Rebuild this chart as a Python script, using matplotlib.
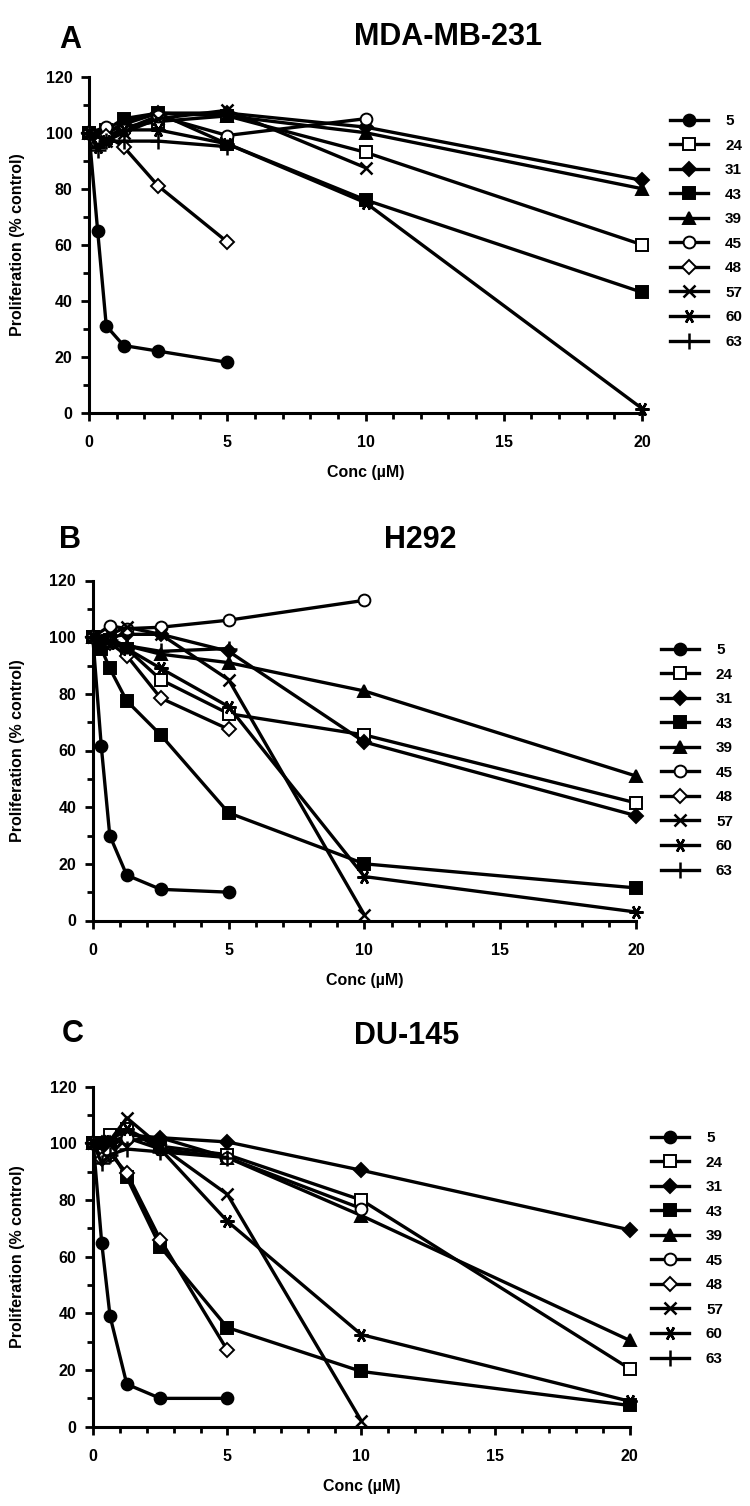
import matplotlib
matplotlib.use('Agg')
import matplotlib.pyplot as plt
from matplotlib.ticker import MultipleLocator

plt.rcParams['font.family'] = ['Liberation Sans', 'DejaVu Sans']
plt.rcParams['font.weight'] = 'bold'

COMPOUNDS = ['5', '24', '31', '43', '39', '45', '48', '57', '60', '63']
TITLES = ['MDA-MB-231', 'H292', 'DU-145']
PANEL_LETTERS = ['A', 'B', 'C']
X_TICKS = [0, 5, 10, 15, 20]
Y_TICKS = [0, 20, 40, 60, 80, 100, 120]

# ---- Panel A (MDA-MB-231) ----
A_CONC = {
    '5':  [0, 0.3125, 0.625, 1.25, 2.5, 5],
    '24': [0, 0.625, 1.25, 2.5, 5, 10, 20],
    '31': [0, 0.625, 1.25, 2.5, 5, 10, 20],
    '43': [0, 0.625, 1.25, 2.5, 5, 10, 20],
    '39': [0, 0.625, 1.25, 2.5, 5, 10, 20],
    '45': [0, 0.625, 1.25, 2.5, 5, 10],
    '48': [0, 0.3125, 0.625, 1.25, 2.5, 5],
    '57': [0, 0.625, 1.25, 2.5, 5, 10],
    '60': [0, 0.3125, 0.625, 1.25, 2.5, 5, 10, 20],
    '63': [0, 0.3125, 0.625, 1.25, 2.5, 5],
}
A_PROLIF = {
    '5':  [100, 65, 31, 24, 22, 18],
    '24': [100, 98, 102, 104, 106, 93, 60],
    '31': [100, 100, 103, 107, 107, 102, 83],
    '43': [100, 101, 105, 107, 96, 76, 43],
    '39': [100, 99, 104, 107, 106, 100, 80],
    '45': [100, 102, 101, 106, 99, 105],
    '48': [100, 96, 99, 95, 81, 61],
    '57': [100, 97, 100, 105, 108, 87.5],
    '60': [100, 95, 97, 101, 101, 96, 75, 1.5],
    '63': [100, 94, 97, 97, 97, 95],
}

# ---- Panel B (H292) ----
B_CONC = {
    '5':  [0, 0.3125, 0.625, 1.25, 2.5, 5],
    '24': [0, 0.625, 1.25, 2.5, 5, 10, 20],
    '31': [0, 0.3125, 0.625, 1.25, 2.5, 5, 10, 20],
    '43': [0, 0.3125, 0.625, 1.25, 2.5, 5, 10, 20],
    '39': [0, 0.625, 1.25, 2.5, 5, 10, 20],
    '45': [0, 0.625, 1.25, 2.5, 5, 10],
    '48': [0, 0.625, 1.25, 2.5, 5],
    '57': [0, 0.625, 1.25, 2.5, 5, 10],
    '60': [0, 0.625, 1.25, 2.5, 5, 10, 20],
    '63': [0, 0.3125, 0.625, 1.25, 2.5, 5],
}
B_PROLIF = {
    '5':  [100, 61.5, 30, 16, 11, 10],
    '24': [100, 99, 96, 85, 73, 65.5, 41.5],
    '31': [100, 97, 100, 101, 101, 95, 63, 37],
    '43': [100, 96, 89, 77.5, 65.5, 38, 20, 11.5],
    '39': [100, 99, 97, 94, 91, 81, 51],
    '45': [100, 104, 103, 103.5, 106, 113],
    '48': [100, 98, 93.5, 78.5, 67.5],
    '57': [100, 101, 103.5, 101, 85, 2],
    '60': [100, 98, 96, 89, 75.5, 15.5, 3],
    '63': [100, 97, 99, 97, 95, 96],
}

# ---- Panel C (DU-145) ----
C_CONC = {
    '5':  [0, 0.3125, 0.625, 1.25, 2.5, 5],
    '24': [0, 0.625, 1.25, 2.5, 5, 10, 20],
    '31': [0, 0.3125, 0.625, 1.25, 2.5, 5, 10, 20],
    '43': [0, 0.3125, 0.625, 1.25, 2.5, 5, 10, 20],
    '39': [0, 0.625, 1.25, 2.5, 5, 10, 20],
    '45': [0, 0.625, 1.25, 2.5, 5, 10],
    '48': [0, 0.3125, 0.625, 1.25, 2.5, 5],
    '57': [0, 0.625, 1.25, 2.5, 5, 10],
    '60': [0, 0.625, 1.25, 2.5, 5, 10, 20],
    '63': [0, 0.3125, 0.625, 1.25, 2.5, 5],
}
C_PROLIF = {
    '5':  [100, 65, 39, 15, 10, 10],
    '24': [100, 103, 105, 99, 96, 80, 20.5],
    '31': [100, 100, 100, 101, 102, 100.5, 90.5, 69.5],
    '43': [100, 100, 98, 88, 63.5, 35, 19.5, 7.5],
    '39': [100, 100, 103, 102, 95, 74.5, 30.5],
    '45': [100, 96, 102, 98, 95, 77],
    '48': [100, 94.5, 96.5, 89.5, 66, 27],
    '57': [100, 101, 109, 99, 82, 2],
    '60': [100, 101, 105, 98, 72.5, 32.5, 9],
    '63': [100, 93, 96, 98, 97, 95],
}

# marker styles: (marker, filled, size)
STYLE = {
    '5':  ('o', True, 8.5),
    '24': ('s', False, 8),
    '31': ('D', True, 7),
    '43': ('s', True, 8),
    '39': ('^', True, 8.5),
    '45': ('o', False, 8.5),
    '48': ('D', False, 7),
    '57': ('x', True, 9),
    '60': ((6, 2, 90), True, 10),
    '63': ('+', True, 11),
}

W, H = 750, 1506
fig = plt.figure(figsize=(W / 100, H / 100), dpi=100)

# axes boxes in pixel coords: left, top, right, bottom
BOXES = [(89, 76.7, 642, 412.7), (92.8, 580.5, 636, 920.5), (93.3, 1086.7, 629.5, 1426.7)]
LEGEND_POS = [(670, 114), (661, 643), (651, 1131)]
TITLE_POS = [(448, 37), (420, 540), (407, 1036)]
LETTER_POS = [(70, 40), (70, 540), (73, 1034)]

panels = [(A_CONC, A_PROLIF), (B_CONC, B_PROLIF), (C_CONC, C_PROLIF)]

for i, (conc, prolif) in enumerate(panels):
    l, t, r, b = BOXES[i]
    ax = fig.add_axes([l / W, 1 - b / H, (r - l) / W, (b - t) / H])
    for c in COMPOUNDS:
        m, filled, ms = STYLE[c]
        ax.plot(conc[c], prolif[c], color='black', lw=2.4, marker=m, ms=ms,
                mfc='black' if filled else 'white', mec='black',
                mew=1.4 if m not in ('x', '+') and not isinstance(m, tuple) else 1.8,
                clip_on=False, label=c, zorder=3)
    ax.set_xlim(0, 20)
    ax.set_ylim(0, 120)
    ax.set_xticks(X_TICKS)
    ax.set_yticks(Y_TICKS)
    ax.xaxis.set_minor_locator(MultipleLocator(1))
    ax.yaxis.set_minor_locator(MultipleLocator(10))
    for s in ('top', 'right'):
        ax.spines[s].set_visible(False)
    for s in ('left', 'bottom'):
        ax.spines[s].set_linewidth(2.2)
    ax.tick_params(axis='both', which='major', length=6, width=2, labelsize=11.5)
    ax.tick_params(axis='both', which='minor', length=4, width=2)
    ax.tick_params(axis='x', which='major', pad=10)
    ax.tick_params(axis='y', which='major', pad=6)
    for lab in ax.get_xticklabels() + ax.get_yticklabels():
        lab.set_fontweight('bold')
    ax.set_xlabel('Conc (µM)', fontsize=11.5, fontweight='bold')
    ax.set_ylabel('Proliferation (% control)', fontsize=11.5, fontweight='bold')
    hpx = b - t
    wpx = r - l
    ax.xaxis.set_label_coords(0.5, -52 / hpx)
    ax.yaxis.set_label_coords((25 - l) / wpx, 0.5)

    lx, ly = LEGEND_POS[i]
    ax.legend(loc='upper left', bbox_to_anchor=(lx / W, 1 - ly / H),
              bbox_transform=fig.transFigure, frameon=False, borderpad=0,
              borderaxespad=0, handlelength=2.5, handletextpad=1.1,
              labelspacing=0.69, prop={'size': 11, 'weight': 'bold'})

    tx, ty = TITLE_POS[i]
    fig.text(tx / W, 1 - ty / H, TITLES[i], ha='center', va='center',
             fontsize=22, fontweight='bold')
    px, py = LETTER_POS[i]
    fig.text(px / W, 1 - py / H, PANEL_LETTERS[i], ha='center', va='center',
             fontsize=22, fontweight='bold')

fig.savefig('out.png', dpi=100)
